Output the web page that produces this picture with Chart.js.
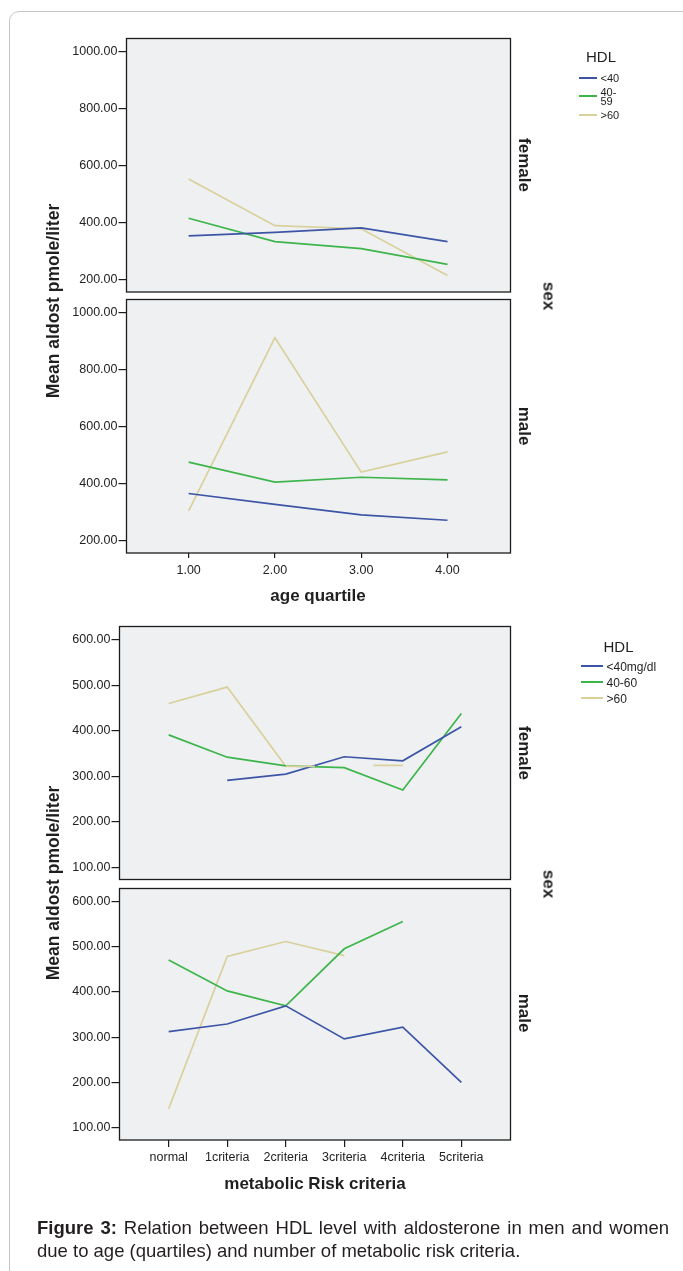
<!DOCTYPE html>
<html><head><meta charset="utf-8">
<script src="https://cdn.jsdelivr.net/npm/chart.js@4.4.0/dist/chart.umd.min.js"></script>
<style>
html,body{margin:0;padding:0;background:#fff;}
body{width:683px;height:1271px;position:relative;overflow:hidden;font-family:"Liberation Sans",Arial,sans-serif;color:#1f1f1f;}
#frame{position:absolute;left:9px;top:11px;width:720px;height:1320px;border:1px solid #c6c6c6;border-radius:10px;box-sizing:border-box;}
canvas{position:absolute;left:0;}
.lbl{position:absolute;white-space:nowrap;line-height:1;transform:translate(-50%,-50%);}
.b{font-weight:bold;}
.lg{position:absolute;}
.cap{position:absolute;left:37px;width:632px;font-size:18.5px;line-height:22.5px;color:#231f20;white-space:nowrap;}
</style></head><body>
<div id="frame"></div>
<canvas id="c1" width="683" height="310" style="top:0px"></canvas>
<canvas id="c2" width="683" height="330" style="top:290px"></canvas>
<canvas id="c3" width="683" height="290" style="top:600px"></canvas>
<canvas id="c4" width="683" height="330" style="top:880px"></canvas>
<div id="texts"></div>
<script>
// ---------- DATA ----------
const ageQuartiles = [1, 2, 3, 4];
const ageYTicks = [200, 400, 600, 800, 1000];
const hdlAgeGroups = ['<40', '40-59', '>60'];
const femaleAgeLt40 = [354, 366, 382, 334];
const femaleAge40to59 = [416, 334, 309, 254];
const femaleAgeGt60 = [554, 390, 379, 215];
const maleAgeLt40 = [364, 326, 289, 270];
const maleAge40to59 = [474, 404, 421, 412];
const maleAgeGt60 = [303, 911, 439, 510];

const riskCategories = ['normal', '1criteria', '2criteria', '3criteria', '4criteria', '5criteria'];
const riskYTicks = [100, 200, 300, 400, 500, 600];
const hdlRiskGroups = ['<40mg/dl', '40-60', '>60'];
const femaleRiskLt40 = [null, 291, 305, 343, 334, 409];
const femaleRisk40to60 = [391, 342, 323, 319, 270, 438];
const femaleRiskGt60 = [460, 496, 322, null, 324, null];
const maleRiskLt40 = [312, 329, 369, 296, 322, 200];
const maleRisk40to60 = [470, 402, 369, 495, 555, null];
const maleRiskGt60 = [142, 478, 511, 480, null, null];

const sexLabels = ['female', 'male'];

// ---------- STYLE ----------
const seriesColors = ['#3d55a6', '#3db54b', '#d9d09c'];
const FONT = '"Liberation Sans", Arial, sans-serif';
const plotBg = '#eef0f2';
const ink = '#1c1c1c';

const framePlugin = {
  id: 'panelFrame',
  beforeDraw(chart) {
    const a = chart.chartArea, c = chart.ctx;
    c.save(); c.fillStyle = plotBg;
    c.fillRect(a.left, a.top, a.right - a.left, a.bottom - a.top);
    c.restore();
  },
  afterDraw(chart) {
    const a = chart.chartArea, c = chart.ctx;
    c.save(); c.strokeStyle = ink; c.lineWidth = 1.3;
    c.strokeRect(a.left, a.top, a.right - a.left, a.bottom - a.top);
    c.restore();
  }
};

// interior gaps are drawn as half-step stubs (as in the source figure)
const gapStubs = {
  id: 'gapStubs',
  afterDatasetsDraw(chart) {
    const xs = chart.scales.x, ys = chart.scales.y, ctx = chart.ctx;
    chart.data.datasets.forEach(ds => {
      const pts = ds.data;
      for (let i = 1; i < pts.length - 1; i++) {
        if (pts[i].y == null && pts[i - 1].y != null && pts[i + 1].y != null) {
          [i - 1, i + 1].forEach(j => {
            const px = xs.getPixelForValue(pts[j].x);
            const pm = xs.getPixelForValue((pts[j].x + pts[i].x) / 2);
            const py = ys.getPixelForValue(pts[j].y);
            ctx.save(); ctx.strokeStyle = ds.borderColor; ctx.lineWidth = ds.borderWidth;
            ctx.beginPath(); ctx.moveTo(px, py); ctx.lineTo(pm, py); ctx.stroke(); ctx.restore();
          });
        }
      }
    });
  }
};

function yScale(min, max, ticks, width) {
  return {
    type: 'linear', min, max,
    afterBuildTicks: s => { s.ticks = ticks.map(v => ({ value: v })); },
    afterFit: s => { s.width = width; },
    border: { display: false },
    grid: { drawOnChartArea: false, drawTicks: true, tickLength: 8, color: ink, lineWidth: 1.2 },
    ticks: { padding: 1, color: '#222', font: { family: FONT, size: 12.5 }, callback: v => Number(v).toFixed(2) }
  };
}
function xScale(min, max, ticks, labelFn, show, height, tickLen, pad) {
  return {
    type: 'linear', min, max, display: show,
    afterBuildTicks: s => { s.ticks = ticks.map(v => ({ value: v })); },
    afterFit: s => { if (show) s.height = height; },
    border: { display: false },
    grid: { drawOnChartArea: false, drawTicks: true, tickLength: tickLen, color: ink, lineWidth: 1.2 },
    ticks: { padding: pad, maxRotation: 0, minRotation: 0, autoSkip: false, color: '#222', font: { family: FONT, size: 12.5 }, callback: v => labelFn(v) }
  };
}
function makeDatasets(xs, seriesList, names) {
  return seriesList.map((vals, k) => ({
    label: names[k],
    data: xs.map((x, i) => ({ x: x, y: vals[i] })),
    borderColor: seriesColors[k], backgroundColor: seriesColors[k],
    borderWidth: 1.7, pointRadius: 0, tension: 0, spanGaps: false
  }));
}
function makeChart(id, datasets, scales, padding) {
  return new Chart(document.getElementById(id), {
    type: 'line',
    data: { datasets },
    options: {
      responsive: false, animation: false, devicePixelRatio: 1,
      layout: { padding },
      plugins: { legend: { display: false }, tooltip: { enabled: false } },
      scales
    },
    plugins: [framePlugin, gapStubs]
  });
}

const ageLabel = v => Number(v).toFixed(2);
const riskIdx = riskCategories.map((c, i) => i);
const riskLabel = v => riskCategories[Math.round(v)];

makeChart('c1', makeDatasets(ageQuartiles, [femaleAgeLt40, femaleAge40to59, femaleAgeGt60], hdlAgeGroups), {
  x: xScale(0.28, 4.73, ageQuartiles, ageLabel, false, 0, 5, 5),
  y: yScale(157, 1047, ageYTicks, 126.5)
}, { top: 38.5, right: 172.5, bottom: 18, left: 0 });

makeChart('c2', makeDatasets(ageQuartiles, [maleAgeLt40, maleAge40to59, maleAgeGt60], hdlAgeGroups), {
  x: xScale(0.28, 4.73, ageQuartiles, ageLabel, true, 67, 5, 5),
  y: yScale(155, 1045, ageYTicks, 126.5)
}, { top: 9.5, right: 172.5, bottom: 0, left: 0 });

makeChart('c3', makeDatasets(riskIdx, [femaleRiskLt40, femaleRisk40to60, femaleRiskGt60], hdlRiskGroups), {
  x: xScale(-0.84, 5.84, riskIdx, riskLabel, false, 0, 7, 3),
  y: yScale(73.5, 629, riskYTicks, 119.5)
}, { top: 26.5, right: 172.5, bottom: 10.5, left: 0 });

makeChart('c4', makeDatasets(riskIdx, [maleRiskLt40, maleRisk40to60, maleRiskGt60], hdlRiskGroups), {
  x: xScale(-0.84, 5.84, riskIdx, riskLabel, true, 70, 7, 3),
  y: yScale(73, 628, riskYTicks, 119.5)
}, { top: 7.5, right: 172.5, bottom: 0, left: 0 });

// ---------- TEXT ----------
const T = document.getElementById('texts');
function label(text, cx, cy, size, bold, rot) {
  const d = document.createElement('div');
  d.className = 'lbl' + (bold ? ' b' : '');
  d.textContent = text;
  d.style.left = cx + 'px'; d.style.top = cy + 'px'; d.style.fontSize = size + 'px';
  d.style.transform = 'translate(-50%,-50%) rotate(' + (rot || 0) + 'deg)';
  T.appendChild(d); return d;
}
const yTitle = 'Mean aldost pmole/liter';
label(yTitle, 54, 300.5, 17.5, true, -90);
label(yTitle, 54, 883.3, 17.5, true, -90);
label(sexLabels[0], 524, 165, 17, true, 90);
label(sexLabels[1], 524, 426, 17, true, 90);
label(sexLabels[0], 524, 753, 17, true, 90);
label(sexLabels[1], 524, 1013, 17, true, 90);
label('sex', 549, 296, 17, true, 90);
label('sex', 549, 884, 17, true, 90);
label('age quartile', 318, 595, 17, true, 0);
label('metabolic Risk criteria', 315, 1183, 17, true, 0);

// legends
function legend(title, tx, ty, names, lineX0, lineX1, lineYs, labelX, labelYs, fs, wrapW) {
  label(title, tx, ty, 15, false, 0);
  names.forEach((n, k) => {
    const ln = document.createElement('div');
    ln.className = 'lg';
    ln.style.cssText = 'left:' + lineX0 + 'px;top:' + (lineYs[k] - 1) + 'px;width:' + (lineX1 - lineX0) + 'px;height:2px;background:' + seriesColors[k] + ';';
    T.appendChild(ln);
    const tx2 = document.createElement('div');
    tx2.className = 'lg';
    tx2.textContent = n;
    tx2.style.cssText = 'left:' + labelX + 'px;top:' + labelYs[k] + 'px;transform:translateY(-50%);font-size:' + fs + 'px;line-height:' + (fs - 1.8) + 'px;' +
      (wrapW ? 'width:' + wrapW + 'px;word-break:break-all;' : 'white-space:nowrap;');
    T.appendChild(tx2);
  });
}
legend('HDL', 601, 56, hdlAgeGroups, 578.5, 596.5, [77.5, 95.5, 115], 600.5, [78.5, 97.2, 116], 11, 20);
legend('HDL', 618.5, 645.5, hdlRiskGroups, 580.5, 602.5, [665.7, 681.7, 697.7], 606.5, [667, 683, 699], 12, 0);

// caption
const c1 = document.createElement('div');
c1.className = 'cap'; c1.style.top = '1217px';
c1.style.whiteSpace = 'normal'; c1.style.textAlign = 'justify'; c1.style.textAlignLast = 'justify';
c1.innerHTML = '<b>Figure 3:</b> Relation between HDL level with aldosterone in men and women';
T.appendChild(c1);
const c2 = document.createElement('div');
c2.className = 'cap'; c2.style.top = '1239.5px';
c2.textContent = 'due to age (quartiles) and number of metabolic risk criteria.';
T.appendChild(c2);
</script>
</body></html>
